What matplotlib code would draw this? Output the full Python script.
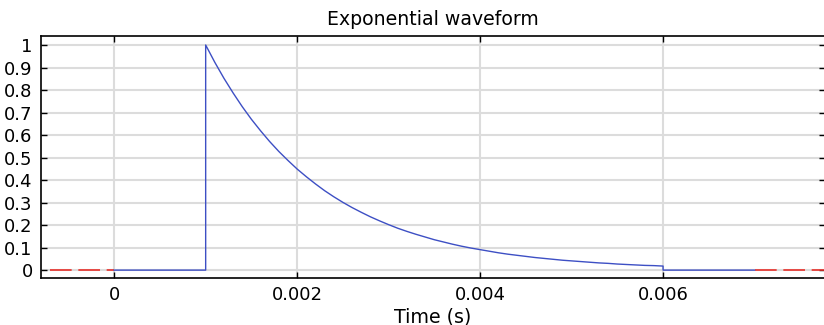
import numpy as np
import matplotlib
matplotlib.use("Agg")
import matplotlib.pyplot as plt

# decay part of the pulse, every 0.1 ms from 1 ms to 6 ms
decay_t = np.linspace(0.001, 0.006, 51)
decay_v = [1.000, 0.923, 0.852, 0.787, 0.726, 0.670, 0.619, 0.571, 0.527, 0.487,
           0.449, 0.415, 0.383, 0.353, 0.326, 0.301, 0.278, 0.257, 0.237, 0.219,
           0.202, 0.186, 0.172, 0.159, 0.147, 0.135, 0.125, 0.115, 0.106, 0.098,
           0.091, 0.084, 0.077, 0.071, 0.066, 0.061, 0.056, 0.052, 0.048, 0.044,
           0.041, 0.038, 0.035, 0.032, 0.030, 0.027, 0.025, 0.023, 0.021, 0.020,
           0.018]

# flat parts before and after the pulse
pre_t = [0.0, 0.001]
pre_v = [0.0, 0.0]
post_t = [0.006, 0.007]
post_v = [0.0, 0.0]

# extrapolated part (dashed red)
ext_left_t = [-0.0007, 0.0]
ext_right_t = [0.007, 0.0078]
ext_v = [0.0, 0.0]

xticks = [0, 0.002, 0.004, 0.006]
xtick_labels = ["0", "0.002", "0.004", "0.006"]
yticks = [0, 0.1, 0.2, 0.3, 0.4, 0.5, 0.6, 0.7, 0.8, 0.9, 1]
ytick_labels = ["0", "0.1", "0.2", "0.3", "0.4", "0.5", "0.6", "0.7", "0.8", "0.9", "1"]

blue = "#3d4fc4"
red = "#e8302a"

fig = plt.figure(figsize=(8.24, 3.25), dpi=100)
ax = fig.add_axes([41 / 824, 1 - 278 / 325, 784 / 824, 242 / 325])

t = pre_t + list(decay_t) + post_t
v = pre_v + decay_v + post_v
ax.plot(t, v, color=blue, lw=1.0, zorder=3)
ax.plot(ext_left_t, ext_v, color=red, lw=1.2, dashes=(13, 4), zorder=2)
ax.plot(ext_right_t, ext_v, color=red, lw=1.2, dashes=(13, 4), zorder=2)

ax.set_xlim(-0.0008, 0.00777)
ax.set_ylim(-0.035, 1.04)
ax.set_xticks(xticks)
ax.set_xticklabels(xtick_labels)
ax.set_yticks(yticks)
ax.set_yticklabels(ytick_labels)
ax.grid(True, color="#dcdcdc", lw=1.5)
ax.set_axisbelow(True)
ax.tick_params(direction="in", length=4, width=1, labelsize=13,
               top=True, right=True, pad=6)
ax.spines["right"].set_visible(False)
for s in ["left", "top", "bottom"]:
    ax.spines[s].set_linewidth(1.2)

ax.set_title("Exponential waveform", fontsize=13.6, pad=8)
ax.set_xlabel("Time (s)", fontsize=13.7, labelpad=2)

fig.savefig("out.png", dpi=100)
